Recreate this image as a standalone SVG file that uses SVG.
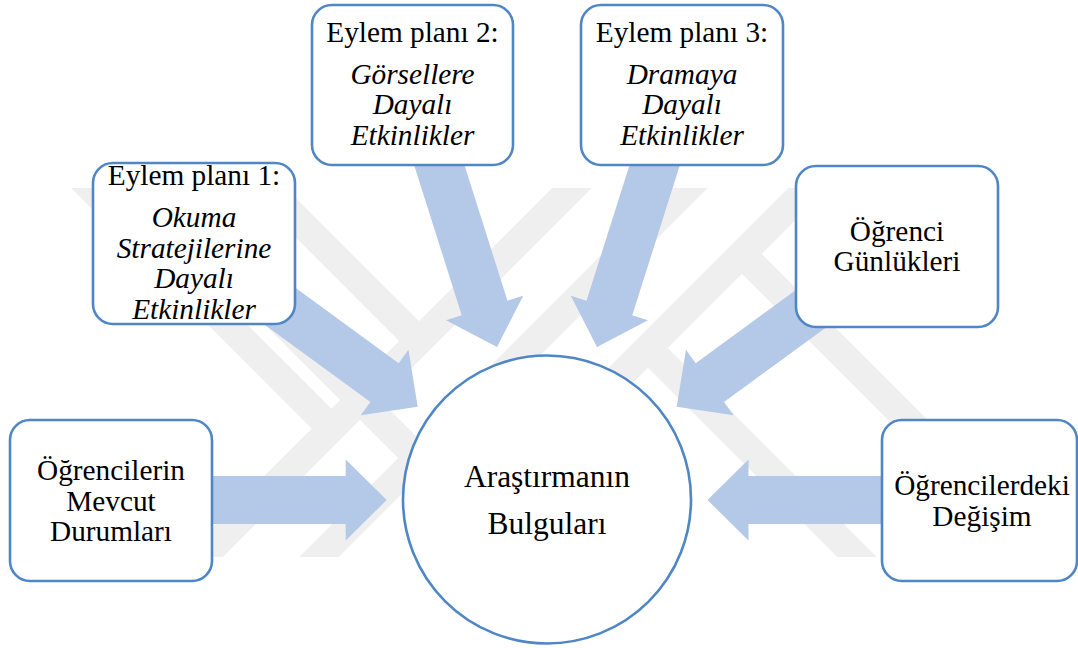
<svg xmlns="http://www.w3.org/2000/svg" xmlns:xlink="http://www.w3.org/1999/xlink" width="1078" height="648" viewBox="0 0 1078 648">
<style>
.wm{fill:none;stroke:#efefef;stroke-width:28;stroke-linecap:butt}
.arr{fill:#b4c8e7}
.box{fill:#ffffff;stroke:#4f86c4;stroke-width:2.6}
.t{font-family:"Liberation Serif","Times New Roman",serif;font-size:29.3px;fill:#000;text-anchor:middle}
.i{font-style:italic}
.c{font-size:31.5px}
</style>
<defs>
<clipPath id="wmclip"><rect x="0" y="188" width="1078" height="369"/></clipPath>
<path id="arrow" d="M0,0 L-41,-40.5 L-41,-24 L-230,-24 L-230,24 L-41,24 L-41,40.5 Z"/>
</defs>
<rect x="0" y="0" width="1078" height="648" fill="#ffffff"/>
<g id="watermark" clip-path="url(#wmclip)">
<line class="wm" x1="610" y1="150" x2="160" y2="600"/>
<line class="wm" x1="726" y1="150" x2="276" y2="600"/>
<line class="wm" x1="846" y1="150" x2="396" y2="600"/>
<line class="wm" x1="53" y1="150" x2="331.5" y2="428.5"/>
<line class="wm" x1="110" y1="150" x2="418" y2="458"/>
<line class="wm" x1="228" y1="150" x2="419" y2="341"/>
<line class="wm" x1="648" y1="348" x2="900" y2="600"/>
<line class="wm" x1="742" y1="254" x2="1088" y2="600"/>
</g>
<g id="connectors">
<use xlink:href="#arrow" class="arr" transform="translate(417.7,406.7) rotate(36.1)"/>
<use xlink:href="#arrow" class="arr" transform="translate(497,347) rotate(72.4)"/>
<use xlink:href="#arrow" class="arr" transform="translate(597,347) rotate(107.6)"/>
<use xlink:href="#arrow" class="arr" transform="translate(676.7,406.7) rotate(143.9)"/>
<use xlink:href="#arrow" class="arr" transform="translate(386.7,500)"/>
<use xlink:href="#arrow" class="arr" transform="translate(707.5,500) rotate(180)"/>
</g>
<g id="node-eylem1">
<rect class="box" x="93" y="163" width="202" height="161" rx="20"/>
<text class="t" x="194" y="185">Eylem planı 1:</text>
<text class="t i" x="194" y="227">Okuma</text>
<text class="t i" x="194" y="257.5">Stratejilerine</text>
<text class="t i" x="194" y="288">Dayalı</text>
<text class="t i" x="194" y="318.5">Etkinlikler</text>
</g>
<g id="node-eylem2">
<rect class="box" x="312" y="5" width="201" height="160" rx="20"/>
<text class="t" x="412.5" y="41.5">Eylem planı 2:</text>
<text class="t i" x="412.5" y="83.5">Görsellere</text>
<text class="t i" x="412.5" y="114">Dayalı</text>
<text class="t i" x="412.5" y="144.5">Etkinlikler</text>
</g>
<g id="node-eylem3">
<rect class="box" x="581" y="5" width="202" height="160" rx="20"/>
<text class="t" x="682" y="41.5">Eylem planı 3:</text>
<text class="t i" x="682" y="83.5">Dramaya</text>
<text class="t i" x="682" y="114">Dayalı</text>
<text class="t i" x="682" y="144.5">Etkinlikler</text>
</g>
<g id="node-gunlukler">
<rect class="box" x="796" y="166" width="202" height="161" rx="20"/>
<text class="t" x="897" y="241">Öğrenci</text>
<text class="t" x="897" y="270.5">Günlükleri</text>
</g>
<g id="node-mevcut">
<rect class="box" x="10" y="420" width="202" height="161" rx="20"/>
<text class="t" x="111" y="480">Öğrencilerin</text>
<text class="t" x="111" y="510.5">Mevcut</text>
<text class="t" x="111" y="541">Durumları</text>
</g>
<g id="node-degisim">
<rect class="box" x="882" y="420" width="195" height="161" rx="20"/>
<text class="t" x="982" y="495">Öğrencilerdeki</text>
<text class="t" x="982" y="525.5">Değişim</text>
</g>
<g id="node-bulgular">
<circle class="box" cx="547" cy="499.5" r="144"/>
<text class="t c" x="547" y="487">Araştırmanın</text>
<text class="t c" x="547" y="533.5">Bulguları</text>
</g>
</svg>
